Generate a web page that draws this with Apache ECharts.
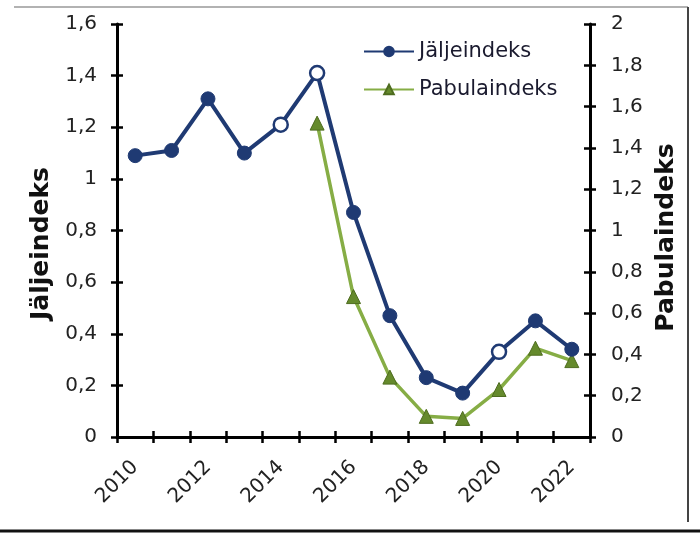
<!DOCTYPE html>
<html><head><meta charset="utf-8">
<script src="https://cdn.jsdelivr.net/npm/echarts@6/dist/echarts.min.js"></script>
<style>html,body{margin:0;padding:0;background:#fff}#c{width:700px;height:541px}</style>
</head><body><div id="c"></div>
<script>
var years = ['2010','2011','2012','2013','2014','2015','2016','2017','2018','2019','2020','2021','2022'];
var jaljeindeks = [1.09,1.11,1.31,1.10,1.21,1.41,0.87,0.47,0.23,0.17,0.33,0.45,0.34];
var hollowYears = ['2014','2015','2020'];
var pabulaYears = ['2015','2016','2017','2018','2019','2020','2021','2022'];
var pabulaindeks = [1.52,0.68,0.29,0.10,0.09,0.23,0.43,0.37];
var leftTicks = {min:0, max:1.6, interval:0.2};
var rightTicks = {min:0, max:2, interval:0.2};

var fmt = function(v){ return String(Math.round(v*10)/10).replace('.', ','); };
var blue = '#1f3a73', greenLine = '#86ad45', greenMark = '#658a2c';
var font = 'DejaVu Sans, Verdana, sans-serif';

var jData = years.map(function(y,i){
  var d = {value: jaljeindeks[i]};
  if (hollowYears.indexOf(y) >= 0) d.itemStyle = {color:'#ffffff', borderColor: blue, borderWidth: 2.5};
  return d;
});
var pData = years.map(function(y){
  var k = pabulaYears.indexOf(y);
  return k >= 0 ? pabulaindeks[k] : '-';
});

function yAx(pos, t, main, name){
  return {
    type:'value', position: pos, min:t.min, max:t.max, interval:t.interval,
    name: main ? name : '', nameLocation:'middle', nameRotate:90,
    nameGap: pos==='left' ? 59 : 63,
    nameTextStyle:{fontFamily:font, fontSize:25, fontWeight:'bold', color:'#111',
      padding: pos==='left' ? [0,26,0,0] : [0,14,0,0]},
    axisLine:{show: main, lineStyle:{color:'#000', width:3}},
    axisTick:{show:true, inside: !main, length:6, lineStyle:{color:'#000', width:2.5}},
    axisLabel:{show: main, fontFamily:font, fontSize:20, color:'#222', formatter: fmt, margin: pos==='left'?20:21},
    splitLine:{show:false}
  };
}
function xAx(main){
  return {
    type:'category', position:'bottom', data: years, boundaryGap:true,
    axisLine:{show: main, lineStyle:{color:'#000', width:3}},
    axisTick:{show:true, inside: !main, interval:0, length:6, lineStyle:{color:'#000', width:2.5}},
    axisLabel:{show: main, interval:1, rotate:45, fontFamily:font, fontSize:20, color:'#222', margin:27},
    splitLine:{show:false}
  };
}

var chart = echarts.init(document.getElementById('c'));
chart.setOption({
  backgroundColor:'#ffffff',
  animation:false,
  grid:{left:117, right:110, top:24, bottom:104},
  legend:{
    orient:'vertical', left:358, top:36, itemGap:17, itemWidth:50, itemHeight:12,
    textStyle:{fontFamily:font, fontSize:21, color:'#1a1a2e'},
    data:['Jäljeindeks','Pabulaindeks']
  },
  xAxis:[xAx(true), xAx(false)],
  yAxis:[yAx('left', leftTicks, true, 'Jäljeindeks'), yAx('right', rightTicks, true, 'Pabulaindeks'),
         yAx('left', leftTicks, false, ''), yAx('right', rightTicks, false, '')],
  series:[
    {name:'Pabulaindeks', type:'line', xAxisIndex:0, yAxisIndex:1, data:pData, connectNulls:false,
     symbol:'triangle', symbolSize:14,
     lineStyle:{color:greenLine, width:3.5},
     itemStyle:{color:greenMark, borderColor:'#4e6c1f', borderWidth:1}, z:2},
    {name:'Jäljeindeks', type:'line', xAxisIndex:0, yAxisIndex:0, data:jData,
     symbol:'circle', symbolSize:14,
     lineStyle:{color:blue, width:4},
     itemStyle:{color:blue, borderColor:blue, borderWidth:1}, z:3}
  ],
  graphic:[
    {type:'line', shape:{x1:14, y1:7, x2:688, y2:7}, style:{stroke:'#999', lineWidth:1.5}},
    {type:'line', shape:{x1:688, y1:7, x2:688, y2:522}, style:{stroke:'#444', lineWidth:2}},
    {type:'line', shape:{x1:0, y1:531, x2:700, y2:531}, style:{stroke:'#111', lineWidth:3}}
  ]
});
</script></body></html>
